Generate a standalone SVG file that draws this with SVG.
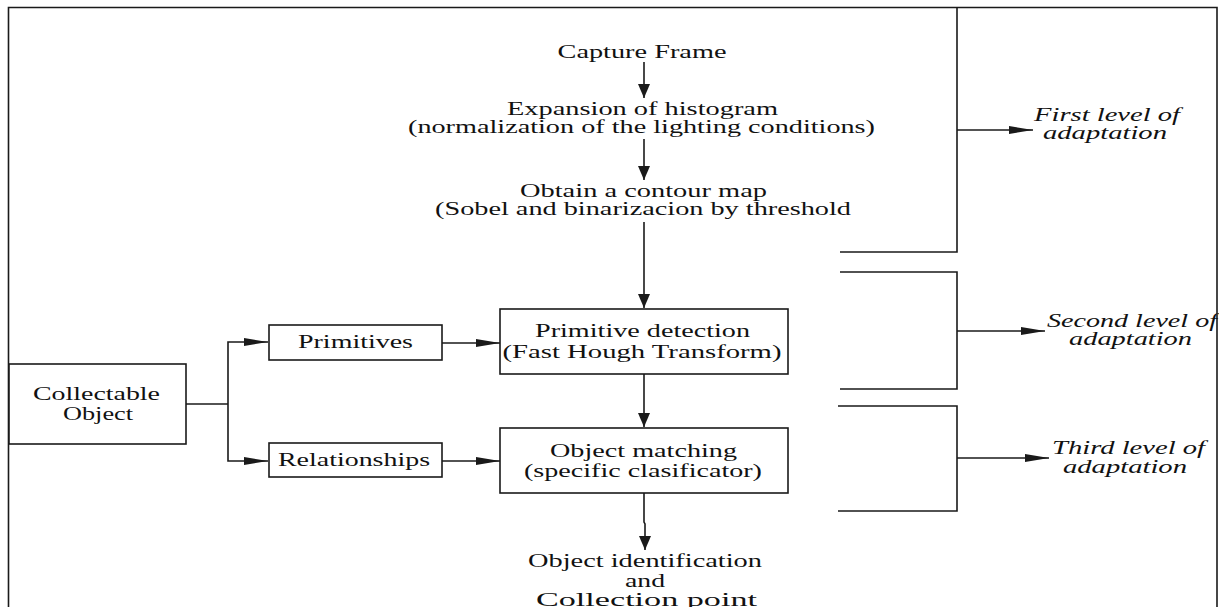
<svg xmlns="http://www.w3.org/2000/svg" width="1219" height="607" viewBox="0 0 1219 607">
<style>
  .ln { stroke: #1a1a1a; stroke-width: 1.6; fill: none; }
  .box { stroke: #1a1a1a; stroke-width: 1.6; fill: #ffffff; }
  .t { font-family: "Liberation Serif", "Times New Roman", serif; font-size: 18px; fill: #111111; text-anchor: middle; }
  .it { font-style: italic; }
  .av { marker-end: url(#arrowV); }
  .ah { marker-end: url(#arrowH); }
</style>
<defs>
  <marker id="arrowV" markerUnits="userSpaceOnUse" markerWidth="14" markerHeight="12" refX="14" refY="6" orient="auto">
    <path d="M0,0 L14,6 L0,12 z" fill="#1a1a1a"/>
  </marker>
  <marker id="arrowH" markerUnits="userSpaceOnUse" markerWidth="24" markerHeight="8" refX="24" refY="4" orient="auto">
    <path d="M0,0 L24,4 L0,8 z" fill="#1a1a1a"/>
  </marker>
</defs>
<rect x="0" y="0" width="1219" height="607" fill="#ffffff"/>

<g id="frame">
  <path class="ln" d="M8.5,607 L8.5,7.5 L1217,7.5 L1217,607"/>
</g>

<g id="connectors">
  <line class="ln av" x1="644" y1="62" x2="644" y2="98"/>
  <line class="ln av" x1="644" y1="139" x2="644" y2="180"/>
  <line class="ln av" x1="644" y1="222" x2="644" y2="308"/>
  <line class="ln av" x1="644" y1="374" x2="644" y2="427"/>
  <path class="ln av" d="M644,493 L644,522 L645,524 L645,550"/>
  <path class="ln" d="M186,404 L228,404"/>
  <path class="ln ah" d="M228,404 L228,342 L268,342"/>
  <path class="ln ah" d="M228,404 L228,461 L268,461"/>
  <line class="ln ah" x1="442" y1="343" x2="500" y2="343"/>
  <line class="ln ah" x1="442" y1="461" x2="500" y2="461"/>
  <line class="ln ah" x1="957" y1="130" x2="1033" y2="130"/>
  <line class="ln ah" x1="957" y1="331" x2="1045" y2="331"/>
  <line class="ln ah" x1="957" y1="458" x2="1049" y2="458"/>
</g>

<g id="bracket1">
  <path class="ln" d="M957,7.5 L957,252 L840,252"/>
</g>
<g id="bracket2">
  <path class="ln" d="M840,272 L957,272 L957,389 L840,389"/>
</g>
<g id="bracket3">
  <path class="ln" d="M838,406 L957,406 L957,511 L838,511"/>
</g>

<g id="capture">
  <text class="t" x="642" y="58" textLength="169" lengthAdjust="spacingAndGlyphs">Capture Frame</text>
</g>
<g id="expansion">
  <text class="t" x="642.5" y="115" textLength="271" lengthAdjust="spacingAndGlyphs">Expansion of histogram</text>
  <text class="t" x="641.5" y="133" textLength="467" lengthAdjust="spacingAndGlyphs">(normalization of the lighting conditions)</text>
</g>
<g id="contour">
  <text class="t" x="643.5" y="197" textLength="247" lengthAdjust="spacingAndGlyphs">Obtain a contour map</text>
  <text class="t" x="643" y="215" textLength="416" lengthAdjust="spacingAndGlyphs">(Sobel and binarizacion by threshold</text>
</g>
<g id="primitive-detection">
  <rect class="box" x="500" y="309" width="288" height="65"/>
  <text class="t" x="642.5" y="337" textLength="215" lengthAdjust="spacingAndGlyphs">Primitive detection</text>
  <text class="t" x="642" y="358" textLength="279" lengthAdjust="spacingAndGlyphs">(Fast Hough Transform)</text>
</g>
<g id="object-matching">
  <rect class="box" x="500" y="428" width="288" height="65"/>
  <text class="t" x="643.5" y="457" textLength="187" lengthAdjust="spacingAndGlyphs">Object matching</text>
  <text class="t" x="643" y="477" textLength="238" lengthAdjust="spacingAndGlyphs">(specific clasificator)</text>
</g>
<g id="identification">
  <text class="t" x="645" y="567" textLength="234" lengthAdjust="spacingAndGlyphs">Object identification</text>
  <text class="t" x="645" y="587" textLength="40" lengthAdjust="spacingAndGlyphs">and</text>
  <text class="t" x="646.5" y="606" textLength="221" lengthAdjust="spacingAndGlyphs">Collection point</text>
</g>
<g id="collectable">
  <rect class="box" x="9" y="364" width="177" height="80"/>
  <text class="t" x="96.5" y="400" textLength="127" lengthAdjust="spacingAndGlyphs">Collectable</text>
  <text class="t" x="98" y="420" textLength="70" lengthAdjust="spacingAndGlyphs">Object</text>
</g>
<g id="primitives">
  <rect class="box" x="269" y="325" width="173" height="35"/>
  <text class="t" x="355.5" y="348" textLength="115" lengthAdjust="spacingAndGlyphs">Primitives</text>
</g>
<g id="relationships">
  <rect class="box" x="269" y="443" width="173" height="34"/>
  <text class="t" x="354" y="466" textLength="152" lengthAdjust="spacingAndGlyphs">Relationships</text>
</g>
<g id="level1">
  <text class="t it" x="1107" y="121" textLength="146" lengthAdjust="spacingAndGlyphs">First level of</text>
  <text class="t it" x="1105" y="139" textLength="124" lengthAdjust="spacingAndGlyphs">adaptation</text>
</g>
<g id="level2">
  <text class="t it" x="1132" y="327" textLength="170" lengthAdjust="spacingAndGlyphs">Second level of</text>
  <text class="t it" x="1130.5" y="345" textLength="123" lengthAdjust="spacingAndGlyphs">adaptation</text>
</g>
<g id="level3">
  <text class="t it" x="1128.5" y="454" textLength="153" lengthAdjust="spacingAndGlyphs">Third level of</text>
  <text class="t it" x="1125" y="473" textLength="124" lengthAdjust="spacingAndGlyphs">adaptation</text>
</g>
</svg>
